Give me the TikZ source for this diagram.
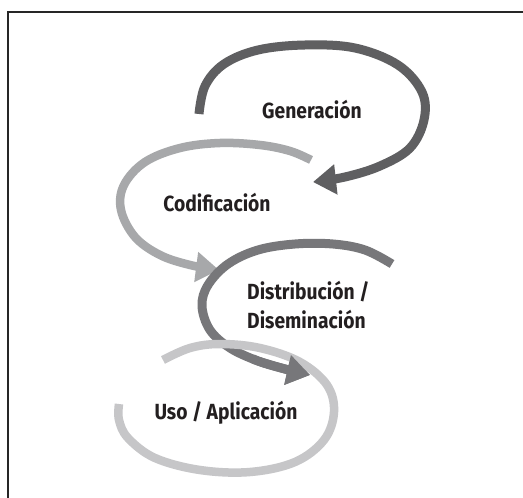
\documentclass[tikz,border=0pt]{standalone}
\usepackage{fontspec}
\setmainfont{Fira Sans}[FakeStretch=0.88]
\usetikzlibrary{arrows.meta}
\definecolor{cone}{HTML}{5F5F61}
\definecolor{ctwo}{HTML}{A7A8AA}
\definecolor{cthree}{HTML}{77777A}
\definecolor{cfour}{HTML}{C6C6C8}
\definecolor{txt}{HTML}{231F20}
\tikzset{
  band/.style={line width=#1, line cap=butt, line join=round},
  lbl/.style={font=\fontsize{22}{29}\selectfont\bfseries, text=txt, inner sep=0pt, align=left},
  bighead/.style={-{Triangle[length=23bp,width=29bp]}}
}
\begin{document}
\begin{tikzpicture}[x=1bp,y=-1bp]
\useasboundingbox (0,0) rectangle (523,498);
\fill[white] (0,0) rectangle (523,498);
% frame
\draw[line width=1.6bp, black!85] (8,498) -- (8,12) -- (523,12);
% curve 1: Generacion
\draw[band=9bp, cone, bighead] plot[smooth, tension=0.6] coordinates {
 (199,114) (205,86) (224,64) (258,50) (305,45) (355,48) (398,65) (422,92)
 (424,120) (410,148) (380,166) (345,177) (313,182)};
% curve 2: Codificacion
\draw[band=8.5bp, ctwo, bighead] plot[smooth, tension=0.6] coordinates {
 (311,160) (290,151) (260,145) (220,143) (180,148) (145,162) (124,185)
 (121,210) (135,237) (160,255) (190,265) (219,270)};
% curve 3: Distribucion
\draw[band=9bp, cthree, bighead] plot[smooth, tension=0.6] coordinates {
 (392,264) (365,250) (333,244) (295,244) (258,250) (228,264) (208,285)
 (202,306) (210,330) (230,348) (258,361) (285,369) (310,375)};
% curve 4: Uso
\draw[band=8.5bp, cfour] plot[smooth, tension=0.6] coordinates {
 (163,360) (190,348) (220,344) (260,348) (300,362) (327,385) (334,412)
 (324,440) (295,462) (250,472) (200,470) (155,458) (128,438) (119,420) (119,404)};
% redraw end of curve 3 on top
\draw[band=9bp, cthree, bighead] plot[smooth, tension=0.6] coordinates {
 (252,358) (258,361) (285,369) (310,375)};
% labels
\node[lbl] (gen) at (312,110) {Generación};
\node[lbl] (cod) at (217,203) {Codificación};
\node[lbl, anchor=west] (dis) at (247,305) {Distribución /\\Diseminación};
\node[lbl] (uso) at (226,413) {Uso / Aplicación};
\end{tikzpicture}
\end{document}
